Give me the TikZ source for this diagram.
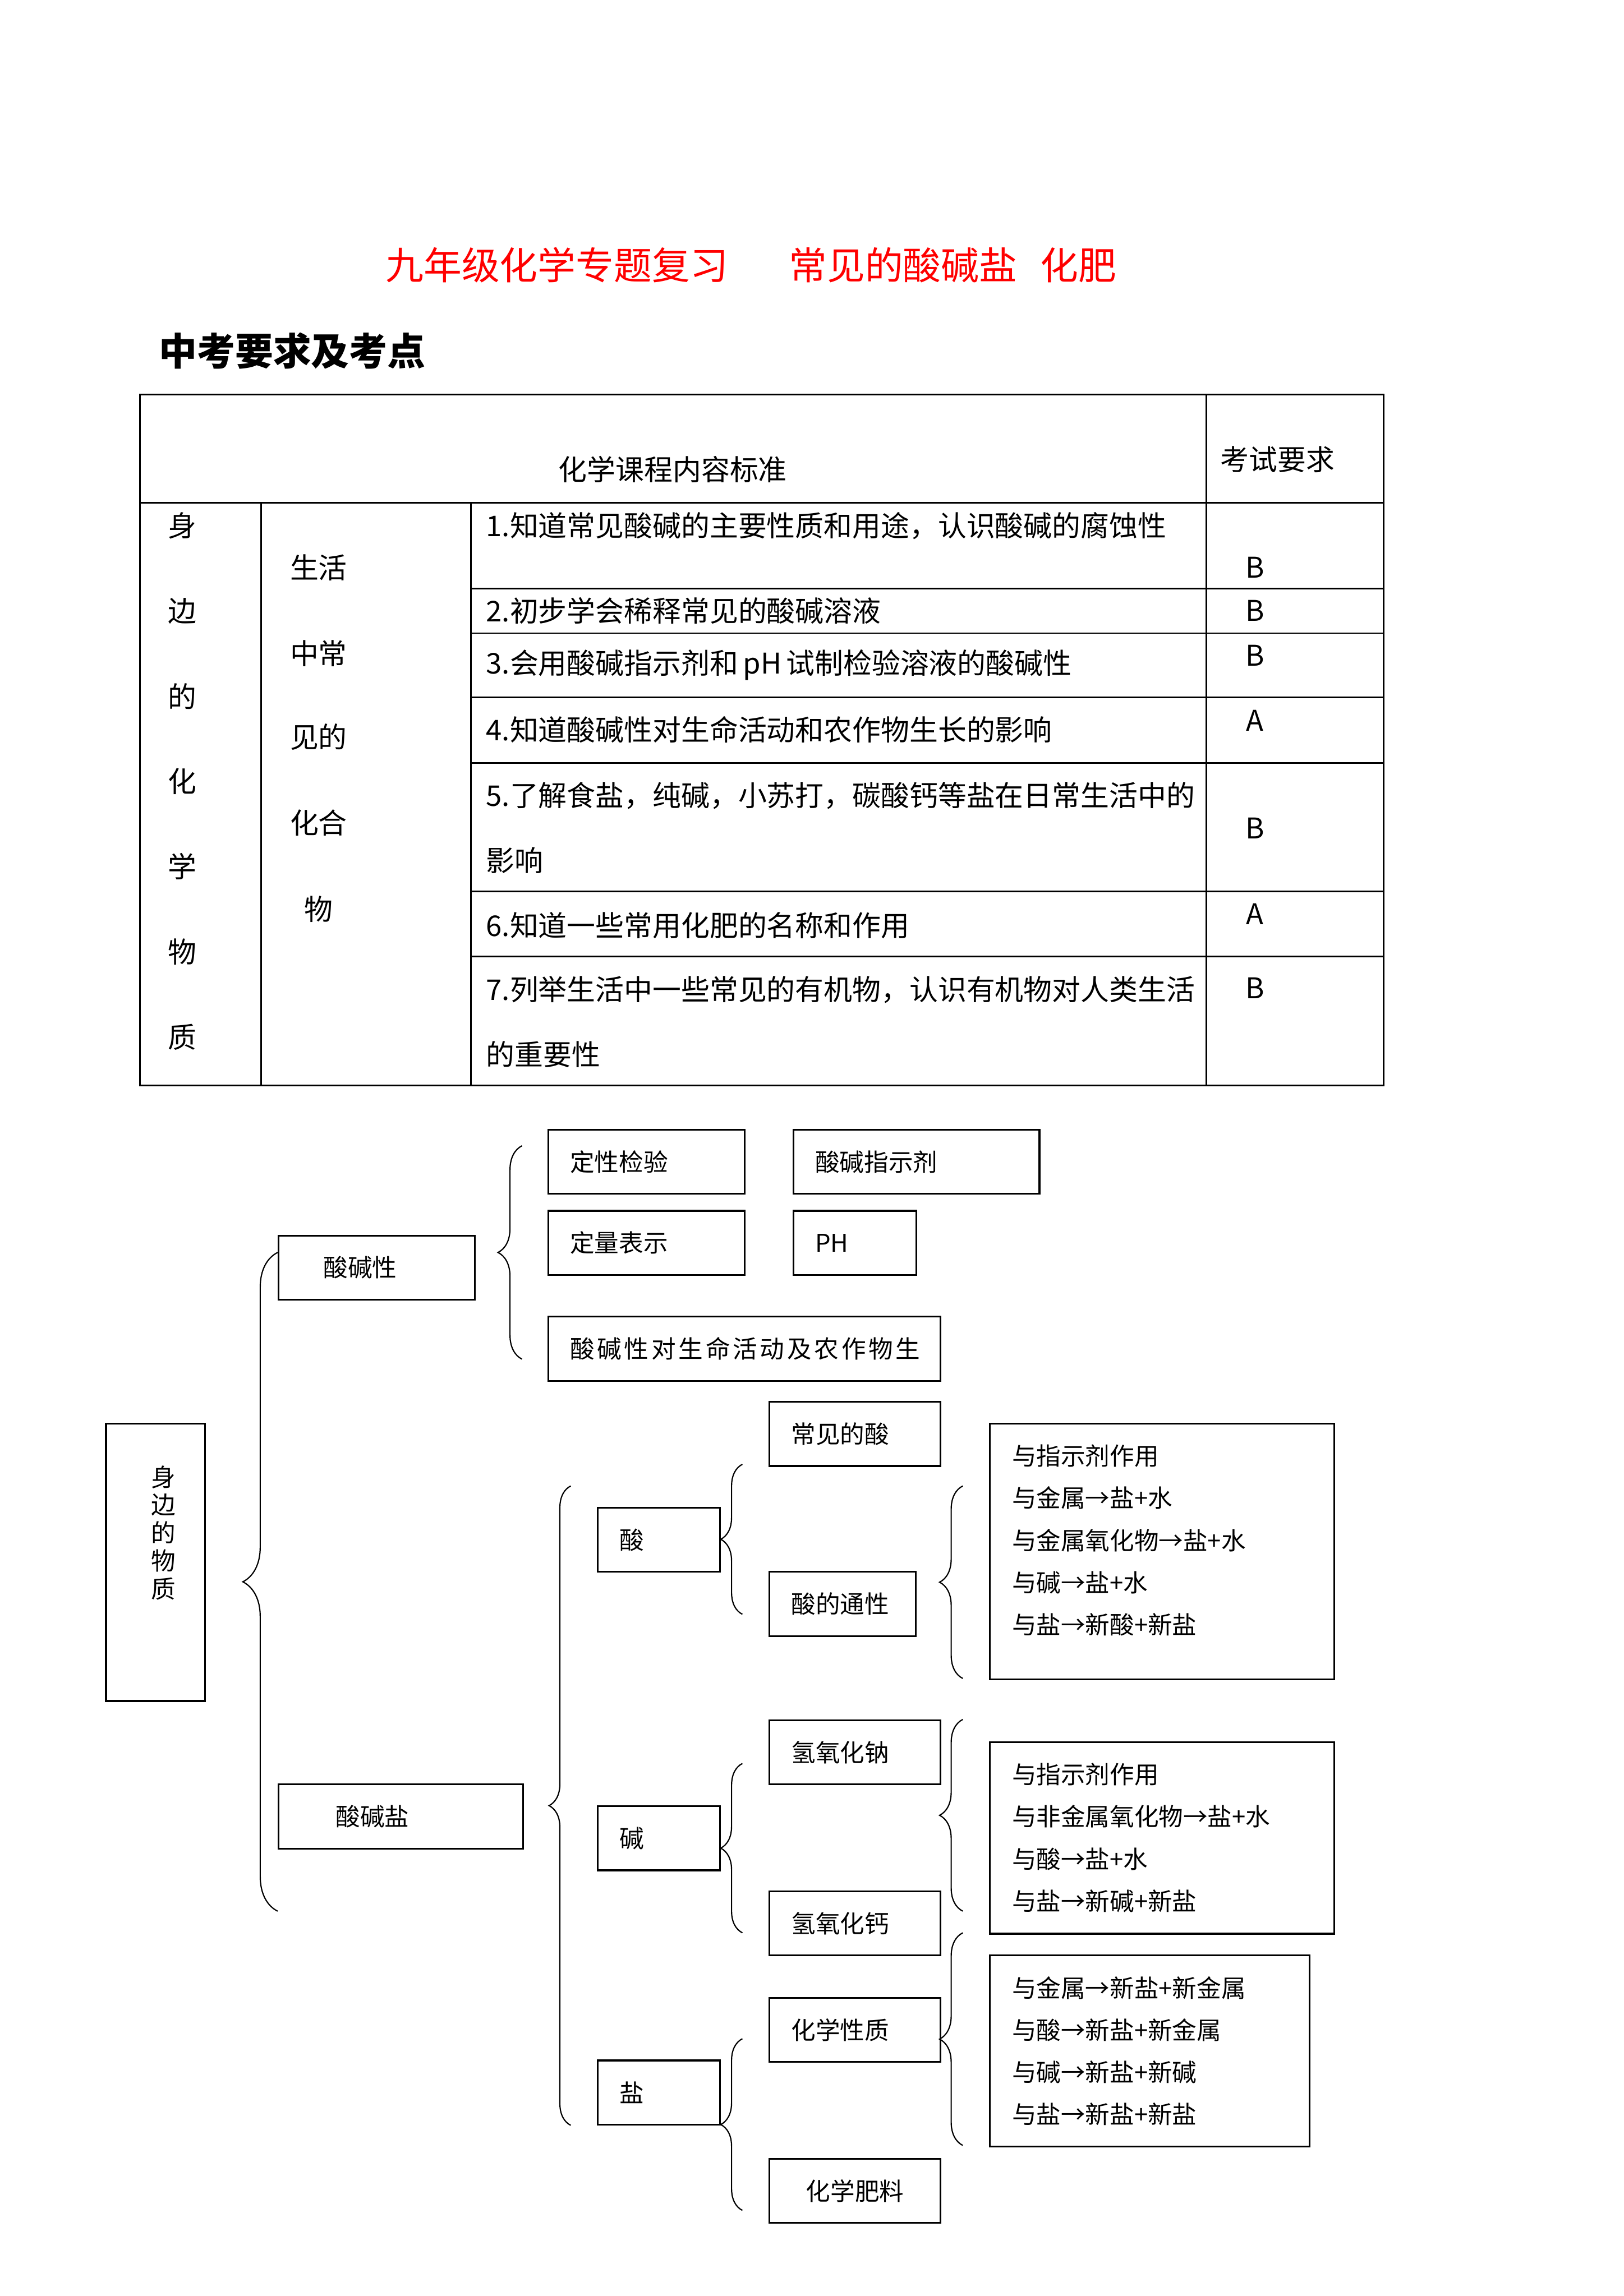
\documentclass[tikz,border=0pt]{standalone}
\usepackage{fontspec}
\setmainfont{Noto Sans CJK SC}
\usepackage{tikz}
\usetikzlibrary{positioning, decorations.pathreplacing}
\definecolor{tRed}{HTML}{FF0000}

\begin{document}
\begin{tikzpicture}[x=1mm, y=-1mm,
  lbox/.style={draw, line width=0.65pt, anchor=north west, align=left,
               inner xsep=2.8mm, inner ysep=0pt, minimum height=8.3mm,
               text width=#1, font=\fontsize{9pt}{15.5pt}\selectfont},
  rbox/.style={draw, line width=0.65pt, anchor=north west, inner sep=0pt},
  rtxt/.style={align=left, inner sep=0pt, font=\fontsize{9pt}{15.5pt}\selectfont},
  tcell/.style={inner sep=0pt, font=\fontsize{10.5pt}{23.9pt}\selectfont},
  tline/.style={line width=0.6pt},
  brc/.style={decorate, decoration={brace, amplitude=#1}, line width=0.45pt},
]
  \fill[white] (0,0) rectangle (210,296.98);
  \useasboundingbox (0,0) rectangle (210,296.98);

  % title
  \node[anchor=west, inner sep=0pt, text=tRed, font=\fontsize{14pt}{16pt}\selectfont]
    (title) at (49.8,34.3) {九年级化学专题复习\hspace{1.6em}常见的酸碱盐\hspace{0.6em}化肥};
  \node[anchor=west, inner sep=0pt, font=\fontsize{14pt}{16pt}\selectfont\bfseries]
    (kaodian) at (20.5,45.4) {中考要求及考点};

  % table
  \draw[tline] (18.1,51.0) rectangle (178.9,140.4);
  \draw[tline] (18.1,65.0) -- (178.9,65.0);
  \draw[tline] (156.0,51.0) -- (156.0,140.4);
  \draw[tline] (33.8,65.0) -- (33.8,140.4);
  \draw[tline] (60.9,65.0) -- (60.9,140.4);
  \foreach \y in {76.1, 81.9, 90.2, 98.7, 115.3, 123.7}
    \draw[tline] (60.9,\y) -- (178.9,\y);

  \node[tcell] (biaozhun) at (87.0,60.7) {化学课程内容标准};
  \node[tcell] (yaoqiu) at (165.2,59.4) {考试要求};
  \foreach \ch [count=\i from 0] in {身,边,的,化,学,物,质}
    \node[tcell] (wzc\i) at (23.6,68.0+11.02*\i) {\ch};
  \foreach \y/\ch [count=\i] in {73.4/生活, 84.5/中常, 95.3/见的, 106.4/化合, 117.6/物}
    \node[tcell] (hhw\i) at (41.2,\y) {\ch};
  \foreach \y/\t [count=\i] in {
      68.0/{1.知道常见酸碱的主要性质和用途，认识酸碱的腐蚀性},
      79.0/{2.初步学会稀释常见的酸碱溶液},
      86.0/{3.会用酸碱指示剂和\,pH\,试制检验溶液的酸碱性},
      94.4/{4.知道酸碱性对生命活动和农作物生长的影响},
      107.05/{5.了解食盐，纯碱，小苏打，碳酸钙等盐在日常生活中的\\影响},
      119.7/{6.知道一些常用化肥的名称和作用},
      132.15/{7.列举生活中一些常见的有机物，认识有机物对人类生活\\的重要性}}
    \node[tcell, anchor=west, align=left] (bz\i) at (62.8,\y) {\t};
  \foreach \y/\g [count=\i] in {73.4/B, 79.0/B, 84.8/B, 93.2/A, 107.1/B, 118.2/A, 127.8/B}
    \node[tcell] (dj\i) at (162.3,\y) {\g};

  % diagram
  \node[rbox, minimum width=12.8mm, minimum height=35.9mm] (wz) at (13.6,184.0) {};
  \node[rtxt, align=center, font=\fontsize{9pt}{10.3pt}\selectfont]
    (wzt) at ([shift={(1mm,3.8mm)}]wz.center) {身\\边\\的\\物\\质};

  \node[lbox=13.8mm, inner xsep=5.8mm] (sjx) at (35.9,159.7) {酸碱性};
  \node[lbox=16.8mm, inner xsep=7.4mm] (sjy) at (35.9,230.7) {酸碱盐};

  \node[lbox=19.8mm] (dxjy) at (70.8,146.0) {定性检验};
  \node[lbox=26.2mm] (zsj)  at (102.5,146.0) {酸碱指示剂};
  \node[lbox=19.8mm] (dlbs) at (70.8,156.5) {定量表示};
  \node[lbox=10.3mm] (ph)   at (102.5,156.5) {PH};
  \node[lbox=45.1mm] (sm)   at (70.8,170.2)
    {\addfontfeature{LetterSpace=11}酸碱性对生命活动及农作物生};

  \node[lbox=10.2mm] (suan) at (77.2,194.9) {酸};
  \node[lbox=10.2mm] (jian) at (77.2,233.5) {碱};
  \node[lbox=10.2mm] (yan)  at (77.2,266.4) {盐};

  \node[lbox=16.5mm] (cjds) at (99.4,181.2) {常见的酸};
  \node[lbox=13.3mm] (sdtx) at (99.4,203.2) {酸的通性};
  \node[lbox=16.5mm] (naoh) at (99.4,222.4) {氢氧化钠};
  \node[lbox=16.5mm] (caoh) at (99.4,244.5) {氢氧化钙};
  \node[lbox=16.5mm] (hxxz) at (99.4,258.3) {化学性质};
  \node[lbox=16.5mm, align=center] (hxfl) at (99.4,279.1) {化学肥料};

  \node[rbox, minimum width=44.5mm, minimum height=33.1mm] (suanfy) at (127.9,184.0) {};
  \node[rtxt, below right=2.8mm and 2.9mm of suanfy.north west] (suant)
    {与指示剂作用\\与金属→盐+水\\与金属氧化物→盐+水\\与碱→盐+水\\与盐→新酸+新盐};
  \node[rbox, minimum width=44.5mm, minimum height=24.8mm] (jianfy) at (127.9,225.2) {};
  \node[rtxt, below right=2.8mm and 2.9mm of jianfy.north west] (jiant)
    {与指示剂作用\\与非金属氧化物→盐+水\\与酸→盐+水\\与盐→新碱+新盐};
  \node[rbox, minimum width=41.3mm, minimum height=24.7mm] (yanfy) at (127.9,252.8) {};
  \node[rtxt, below right=2.8mm and 2.9mm of yanfy.north west] (yant)
    {与金属→新盐+新金属\\与酸→新盐+新金属\\与碱→新盐+新碱\\与盐→新盐+新盐};

  % braces
  \foreach \n/\x/\yt/\yb/\a in {1/35.9/162.0/247.2/4.5, 2/67.5/148.2/175.8/3.1,
      3/73.8/192.2/274.9/2.8, 4/96.0/189.4/208.8/2.8, 5/124.5/192.2/217.1/3.0,
      6/96.0/228.1/250.0/2.8, 7/124.5/222.4/247.2/3.0, 8/124.5/250.0/277.5/3.0,
      9/96.0/263.7/285.9/2.8} {
    \coordinate (top\n) at (\x,\yt);
    \coordinate (bot\n) at (\x,\yb);
    \draw[brc=\a mm] (bot\n) -- (top\n);
  }
\end{tikzpicture}
\end{document}
